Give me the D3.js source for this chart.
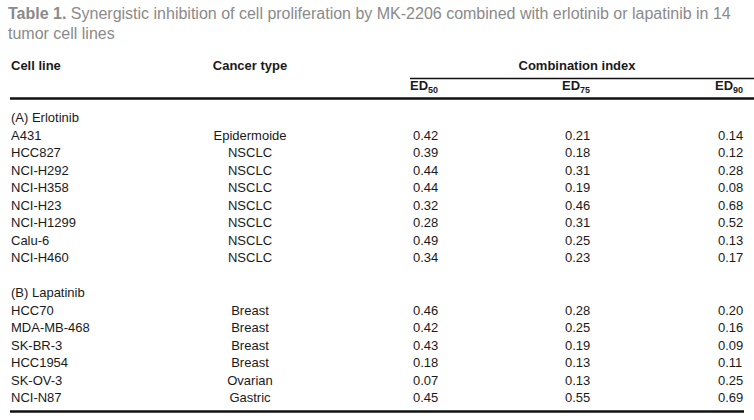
<!DOCTYPE html>
<html>
<head>
<meta charset="utf-8">
<script src="https://cdn.jsdelivr.net/npm/d3@7"></script>
<style>
  body { margin: 0; background: #fff; }
  svg { display: block; font-family: "Liberation Sans", Arial, sans-serif; }
</style>
</head>
<body>
<script>
// Tabellen-Daten
const groupNames = ["(A) Erlotinib", "(B) Lapatinib"];
const erlotinibLines = ["A431", "HCC827", "NCI-H292", "NCI-H358", "NCI-H23", "NCI-H1299", "Calu-6", "NCI-H460"];
const erlotinibTypes = ["Epidermoide", "NSCLC", "NSCLC", "NSCLC", "NSCLC", "NSCLC", "NSCLC", "NSCLC"];
const erlotinibED50 = ["0.42", "0.39", "0.44", "0.44", "0.32", "0.28", "0.49", "0.34"];
const erlotinibED75 = ["0.21", "0.18", "0.31", "0.19", "0.46", "0.31", "0.25", "0.23"];
const erlotinibED90 = ["0.14", "0.12", "0.28", "0.08", "0.68", "0.52", "0.13", "0.17"];

const lapatinibLines = ["HCC70", "MDA-MB-468", "SK-BR-3", "HCC1954", "SK-OV-3", "NCI-N87"];
const lapatinibTypes = ["Breast", "Breast", "Breast", "Breast", "Ovarian", "Gastric"];
const lapatinibED50 = ["0.46", "0.42", "0.43", "0.18", "0.07", "0.45"];
const lapatinibED75 = ["0.28", "0.25", "0.19", "0.13", "0.13", "0.55"];
const lapatinibED90 = ["0.20", "0.16", "0.09", "0.11", "0.25", "0.69"];

const columnLabels = ["ED", "ED", "ED"];
const columnSubs = ["50", "75", "90"];

const width = 754, height = 420;

const svg = d3.select("body").append("svg")
    .attr("width", width)
    .attr("height", height);

// Titel
const title = svg.append("text")
    .attr("x", 8)
    .attr("y", 19)
    .attr("fill", "#8a8a8a")
    .style("font-size", "16px");
title.append("tspan").attr("font-weight", "bold").text("Table 1.");
title.append("tspan").text(" Synergistic inhibition of cell proliferation by MK-2206 combined with erlotinib or lapatinib in 14");
svg.append("text")
    .attr("x", 8)
    .attr("y", 39)
    .attr("fill", "#8a8a8a")
    .style("font-size", "16px")
    .text("tumor cell lines");

// Zeilen zusammenbauen (Gruppenkopf + Zellinien)
const rows = [];
function addGroup(name, lines, types, a, b, c) {
    rows.push({ group: name });
    lines.forEach((l, i) => rows.push({ line: l, type: types[i], vals: [a[i], b[i], c[i]] }));
}
addGroup(groupNames[0], erlotinibLines, erlotinibTypes, erlotinibED50, erlotinibED75, erlotinibED90);
rows.push({ blank: true });
addGroup(groupNames[1], lapatinibLines, lapatinibTypes, lapatinibED50, lapatinibED75, lapatinibED90);

// Skalen
const yScale = d3.scaleLinear()
    .domain([0, rows.length - 1])
    .range([122, 122 + (rows.length - 1) * 17.5]);

const xScale = d3.scaleOrdinal()
    .domain(["line", "type", "ed50", "ed75", "ed90"])
    .range([11, 250, 413, 565, 718]);

const textColor = "#1a1a1a";

// Kopfzeile
const head = svg.append("g")
    .style("font-size", "13px")
    .attr("font-weight", "bold")
    .attr("fill", textColor);
head.append("text").attr("x", xScale("line")).attr("y", 70).text("Cell line");
head.append("text").attr("x", xScale("type")).attr("y", 70).attr("text-anchor", "middle").text("Cancer type");
head.append("text").attr("x", 577).attr("y", 70).attr("text-anchor", "middle").text("Combination index");

["ed50", "ed75", "ed90"].forEach((k, i) => {
    const t = head.append("text").attr("x", xScale(k) - 3).attr("y", 90);
    t.append("tspan").text(columnLabels[i]);
    t.append("tspan").attr("dy", 3).style("font-size", "9px").text(columnSubs[i]);
});

// Linien
svg.append("line").attr("x1", 410).attr("x2", 754).attr("y1", 78.5).attr("y2", 78.5)
    .attr("stroke", "#111").attr("stroke-width", 1.3);
svg.append("line").attr("x1", 10).attr("x2", 754).attr("y1", 98.5).attr("y2", 98.5)
    .attr("stroke", "#111").attr("stroke-width", 2.4);
svg.append("line").attr("x1", 10).attr("x2", 744).attr("y1", 411.5).attr("y2", 411.5)
    .attr("stroke", "#111").attr("stroke-width", 2.4);

// Tabellenkörper
const body = svg.append("g")
    .style("font-size", "13px")
    .attr("fill", textColor);

rows.forEach((r, i) => {
    if (r.blank) return;
    const y = yScale(i);
    if (r.group) {
        body.append("text").attr("x", xScale("line")).attr("y", y).text(r.group);
        return;
    }
    body.append("text").attr("x", xScale("line")).attr("y", y).text(r.line);
    body.append("text").attr("x", xScale("type")).attr("y", y).attr("text-anchor", "middle").text(r.type);
    ["ed50", "ed75", "ed90"].forEach((k, j) => {
        body.append("text").attr("x", xScale(k)).attr("y", y).text(r.vals[j]);
    });
});
</script>
</body>
</html>
